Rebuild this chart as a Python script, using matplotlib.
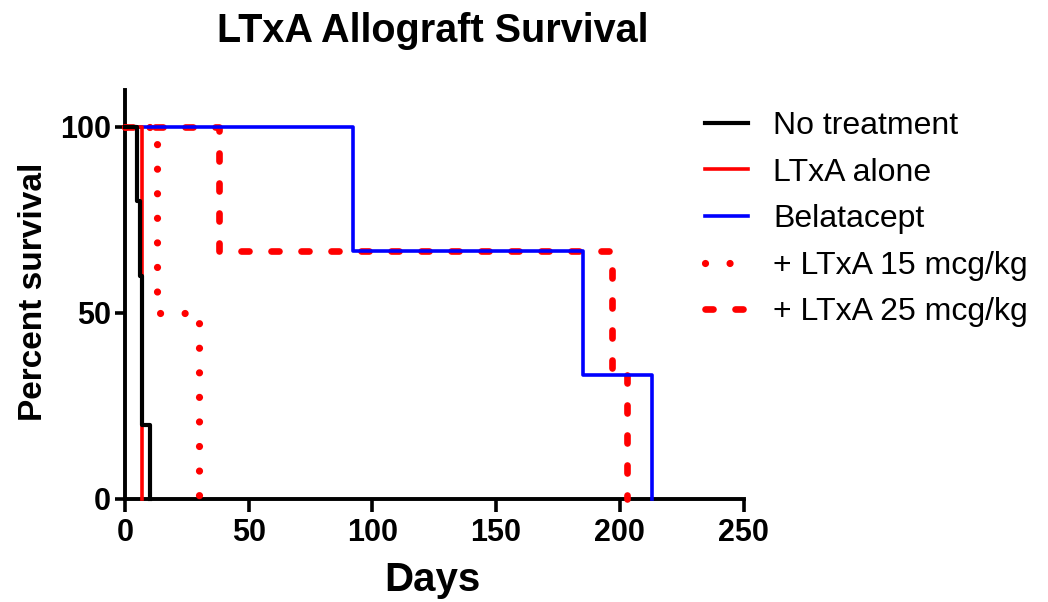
import matplotlib
matplotlib.use("Agg")
import matplotlib.pyplot as plt

plt.rcParams['font.family'] = ['Liberation Sans', 'DejaVu Sans']

# ---- data ----
title = "LTxA Allograft Survival"
xlabel = "Days"
ylabel = "Percent survival"
xticks = [0, 50, 100, 150, 200, 250]
yticks = [0, 50, 100]

no_treat_t = [0, 5, 6, 7, 10]
no_treat_s = [100, 80, 60, 20, 0]
ltxa_alone_t = [0, 7]
ltxa_alone_s = [100, 0]
belatacept_t = [0, 92, 185, 213]
belatacept_s = [100, 66.67, 33.33, 0]
ltxa15_t = [0, 13, 30]
ltxa15_s = [100, 50, 0]
ltxa25_t = [0, 38, 197, 203]
ltxa25_s = [100, 66.67, 33.33, 0]

labels = ["No treatment", "LTxA alone", "Belatacept",
          "+ LTxA 15 mcg/kg", "+ LTxA 25 mcg/kg"]

W, H = 1048, 602
fig = plt.figure(figsize=(W / 100, H / 100), dpi=100)
ax = fig.add_axes([125 / W, 1 - 499 / H, (743.5 - 125) / W, (499 - 89.5) / H])

RED = '#ff0000'
BLUE = '#0000ff'

l25, = ax.step(ltxa25_t, ltxa25_s, where='post', color=RED, lw=4.8,
               dashes=(1.2, 3.3), dash_capstyle='round', clip_on=False, zorder=3)
l15, = ax.step(ltxa15_t, ltxa15_s, where='post', color=RED, lw=5.2,
               dashes=(0.001, 3.4), dash_capstyle='round', clip_on=False, zorder=3)
lb, = ax.step(belatacept_t, belatacept_s, where='post', color=BLUE, lw=2.6,
              clip_on=False, zorder=4)
la, = ax.step(ltxa_alone_t, ltxa_alone_s, where='post', color=RED, lw=2.6,
              clip_on=False, zorder=4)
ln, = ax.step(no_treat_t, no_treat_s, where='post', color='black', lw=3.0,
              clip_on=False, zorder=5)

ax.set_xlim(0, 250)
ax.set_ylim(0, 110)
ax.set_xticks(xticks)
ax.set_yticks(yticks)
for s in ['top', 'right']:
    ax.spines[s].set_visible(False)
for s in ['left', 'bottom']:
    ax.spines[s].set_linewidth(2.8)
ax.tick_params(axis='x', direction='out', length=9, width=2.6, pad=5,
               labelsize=22)
ax.tick_params(axis='y', direction='out', length=7, width=2.6, pad=3,
               labelsize=22)
for t in ax.get_xticklabels() + ax.get_yticklabels():
    t.set_fontweight('bold')

fig.text(433 / W, 1 - 42 / H, title, ha='center', va='baseline',
         fontsize=28.5, fontweight='bold')
fig.text(432 / W, 1 - 580 / H, xlabel, ha='center', va='center',
         fontsize=29, fontweight='bold')
fig.text(34 / W, 1 - 292 / H, ylabel, ha='center', va='center',
         rotation=90, fontsize=24, fontweight='bold')

handles = [ln, la, lb, l15, l25]
leg = fig.legend(handles, labels, loc='upper left',
                 bbox_to_anchor=(705 / W, 1 - 111 / H),
                 frameon=False, fontsize=23, handlelength=1.35,
                 handletextpad=0.78, labelspacing=0.52, borderpad=0,
                 borderaxespad=0)

fig.savefig("out.png", dpi=100)
